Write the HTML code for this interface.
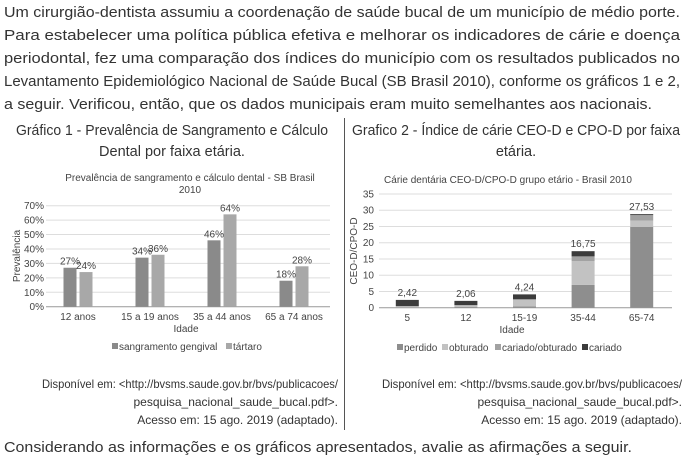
<!DOCTYPE html>
<html><head><meta charset="utf-8"><style>
html,body{margin:0;padding:0;background:#fff}
svg{display:block;font-family:"Liberation Sans",sans-serif}
</style></head><body>
<svg id="page" width="688" height="464" viewBox="0 0 688 464">
<g fill="#333" font-size="15">
<text x="4" y="17" textLength="676" lengthAdjust="spacingAndGlyphs">Um cirurgião-dentista assumiu a coordenação de saúde bucal de um município de médio porte.</text>
<text x="4" y="40" textLength="676" lengthAdjust="spacingAndGlyphs">Para estabelecer uma política pública efetiva e melhorar os indicadores de cárie e doença</text>
<text x="4" y="63" textLength="676" lengthAdjust="spacingAndGlyphs">periodontal, fez uma comparação dos índices do município com os resultados publicados no</text>
<text x="4" y="86" textLength="676" lengthAdjust="spacingAndGlyphs">Levantamento Epidemiológico Nacional de Saúde Bucal (SB Brasil 2010), conforme os gráficos 1 e 2,</text>
<text x="4" y="109" textLength="648" lengthAdjust="spacingAndGlyphs">a seguir. Verificou, então, que os dados municipais eram muito semelhantes aos nacionais.</text>
</g>
<line x1="344.5" y1="118" x2="344.5" y2="430" stroke="#555" stroke-width="1"/>
<g fill="#333" font-size="14.5" text-anchor="middle">
<text x="172" y="135" textLength="312" lengthAdjust="spacingAndGlyphs">Gráfico 1 - Prevalência de Sangramento e Cálculo</text>
<text x="172" y="156">Dental por faixa etária.</text>
<text x="516" y="135" textLength="328" lengthAdjust="spacingAndGlyphs">Grafico 2 - Índice de cárie CEO-D e CPO-D por faixa</text>
<text x="516" y="156">etária.</text>
</g>
<g id="c1"></g>
<g id="c2"></g>
<g fill="#333" font-size="12" text-anchor="end">
<text x="338" y="388" textLength="296" lengthAdjust="spacingAndGlyphs">Disponível em: &lt;http://bvsms.saude.gov.br/bvs/publicacoes/</text>
<text x="338" y="406">pesquisa_nacional_saude_bucal.pdf&gt;.</text>
<text x="338" y="424">Acesso em: 15 ago. 2019 (adaptado).</text>
<text x="682" y="388" textLength="300" lengthAdjust="spacingAndGlyphs">Disponível em: &lt;http://bvsms.saude.gov.br/bvs/publicacoes/</text>
<text x="682" y="406">pesquisa_nacional_saude_bucal.pdf&gt;.</text>
<text x="682" y="424">Acesso em: 15 ago. 2019 (adaptado).</text>
</g>
<text x="4" y="452" fill="#333" font-size="15" textLength="628" lengthAdjust="spacingAndGlyphs">Considerando as informações e os gráficos apresentados, avalie as afirmações a seguir.</text>
</svg>
<script>
// Chart 1 data
const cats1 = ["12 anos","15 a 19 anos","35 a 44 anos","65 a 74 anos"];
const sangramento = [27,34,46,18];
const tartaro = [24,36,64,28];
const ticks1 = [0,10,20,30,40,50,60,70];
// Chart 2 data
const cats2 = ["5","12","15-19","35-44","65-74"];
const perdido = [0.1,0.2,0.4,7.0,24.9];
const obturado = [0.3,0.5,2.0,7.3,1.9];
const cariadoObturado = [0.1,0.1,0.2,1.5,1.7];
const cariado = [1.9,1.3,1.5,1.6,0.3];
const totals2 = ["2,42","2,06","4,24","16,75","27,53"];
const ticks2 = [0,5,10,15,20,25,30,35];

const NS="http://www.w3.org/2000/svg";
function mk(p,tag,a,txt){const e=document.createElementNS(NS,tag);for(const k in a)e.setAttribute(k,a[k]);if(txt!==undefined)e.textContent=txt;p.appendChild(e);return e;}

// ---- chart 1
(function(){
const g=document.getElementById('c1');
const x0=42,x1=330,yb=306.7,yt=205.7,ymax=70;
const y=v=>yb-(v/ymax)*(yb-yt);
const step=(x1-x0)/cats1.length;
const cx=i=>x0+step*(i+0.5);
let t=mk(g,'text',{x:190,y:181,'font-size':10,fill:'#444','text-anchor':'middle'},'Prevalência de sangramento e cálculo dental - SB Brasil');

t=mk(g,'text',{x:190,y:193,'font-size':10,fill:'#444','text-anchor':'middle'},'2010');

ticks1.forEach(v=>{
 const l=mk(g,'line',{x1:x0+4,x2:x1,y1:y(v),y2:y(v),stroke:v===0?'#999':'#ddd','stroke-width':1});
 
 const tx=mk(g,'text',{x:44,y:y(v)+3.5,'font-size':10,fill:'#444','text-anchor':'end'},v+'%');
 
});
cats1.forEach((c,i)=>{
 const bw=13,gap=3;
 [[sangramento,'#8a8a8a',-bw-gap/2],[tartaro,'#a8a8a8',gap/2]].forEach(([arr,col,off],k)=>{
  const v=arr[i];
  const r=mk(g,'rect',{x:cx(i)+off,y:y(v),width:bw,height:yb-y(v),fill:col});
  
  const lb=mk(g,'text',{x:cx(i)+off+bw/2,y:y(v)-3,'font-size':10,fill:'#444','text-anchor':'middle'},v+'%');
  
 });
 const xl=mk(g,'text',{x:cx(i),y:320,'font-size':10,fill:'#444','text-anchor':'middle'},c);
 
});
t=mk(g,'text',{x:186,y:332,'font-size':10,fill:'#444','text-anchor':'middle'},'Idade');

t=mk(g,'text',{x:0,y:0,'font-size':10,fill:'#444','text-anchor':'middle',transform:'translate(20,256) rotate(-90)'},'Prevalência');

[['sangramento gengival','#8a8a8a',112],['tártaro','#a8a8a8',226]].forEach(([n,col,lx])=>{
 const r=mk(g,'rect',{x:lx,y:343,width:6,height:6,fill:col});
 
 const tx=mk(g,'text',{x:lx+7,y:350,'font-size':10,fill:'#444'},n);
 
});
})();

// ---- chart 2
(function(){
const g=document.getElementById('c2');
const x0=379,x1=672,yb=307.7,yt=194,ymax=35;
const y=v=>yb-(v/ymax)*(yb-yt);
const step=(x1-x0)/cats2.length;
const cx=i=>x0+step*(i+0.5)-1;
let t=mk(g,'text',{x:508,y:183,'font-size':10,fill:'#444','text-anchor':'middle'},'Cárie dentária CEO-D/CPO-D grupo etário - Brasil 2010');

ticks2.forEach(v=>{
 const l=mk(g,'line',{x1:x0,x2:x1,y1:y(v),y2:y(v),stroke:v===0?'#999':'#ddd','stroke-width':1});
 
 const tx=mk(g,'text',{x:374,y:y(v)+3.5,'font-size':10,fill:'#444','text-anchor':'end'},v);
 
});
const series=[[perdido,'#8e8e8e','segment-perdido'],[obturado,'#c2c2c2','segment-obturado'],[cariadoObturado,'#a2a2a2','segment-cariado-obturado'],[cariado,'#3c3c3c','segment-cariado']];
cats2.forEach((c,i)=>{
 const bw=23;let acc=0;
 series.forEach(([arr,col,nm])=>{
  const v=arr[i];
  const r=mk(g,'rect',{x:cx(i)-bw/2,y:y(acc+v),width:bw,height:y(acc)-y(acc+v),fill:col});
  
  acc+=v;
 });
 const lb=mk(g,'text',{x:cx(i),y:y(acc)-4,'font-size':10,fill:'#444','text-anchor':'middle'},totals2[i]);
 
 const xl=mk(g,'text',{x:cx(i),y:321,'font-size':10,fill:'#444','text-anchor':'middle'},c);
 
});
t=mk(g,'text',{x:512,y:333,'font-size':10,fill:'#444','text-anchor':'middle'},'Idade');

t=mk(g,'text',{x:0,y:0,'font-size':10,fill:'#444','text-anchor':'middle',transform:'translate(357,251) rotate(-90)'},'CEO-D/CPO-D');

[['perdido','#8e8e8e',397],['obturado','#c2c2c2',442],['cariado/obturado','#a2a2a2',495],['cariado','#3c3c3c',582]].forEach(([n,col,lx])=>{
 const r=mk(g,'rect',{x:lx,y:344,width:6,height:6,fill:col});
 
 const tx=mk(g,'text',{x:lx+7,y:351,'font-size':10,fill:'#444'},n);
 
});
})();
</script>
</body></html>
